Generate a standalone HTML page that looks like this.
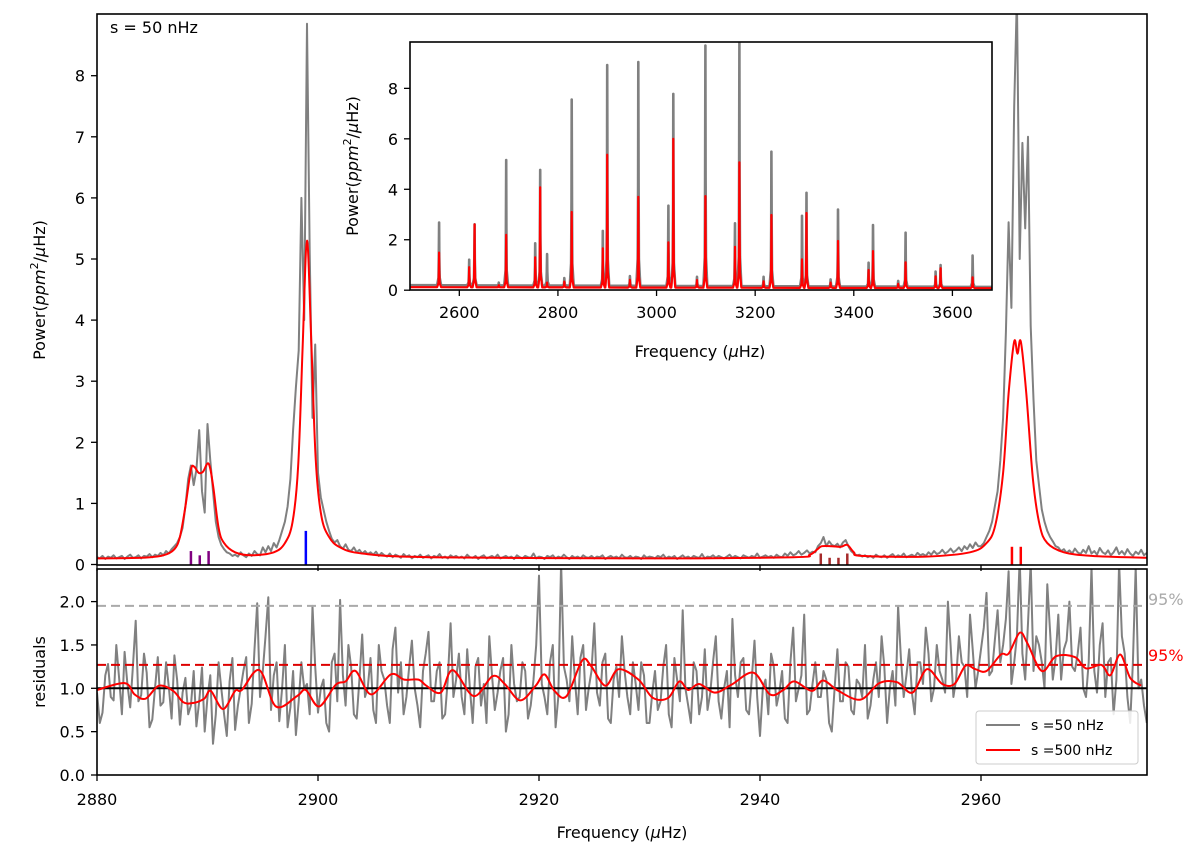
<!DOCTYPE html>
<html><head><meta charset="utf-8">
<style>
html,body{margin:0;padding:0;background:#fff;}
svg{display:block;font-family:"DejaVu Sans","Liberation Sans",sans-serif;}
</style></head>
<body>
<svg id="chart" width="1200" height="852" viewBox="0 0 1200 852" xmlns="http://www.w3.org/2000/svg">
<defs>
<clipPath id="clipMain"><rect x="97" y="14" width="1050" height="551"/></clipPath>
<clipPath id="clipRes"><rect x="97" y="569" width="1050" height="206"/></clipPath>
<clipPath id="clipIns"><rect x="410" y="42" width="582" height="248"/></clipPath>
</defs>
<rect width="1200" height="852" fill="#fff"/>
<g id="mainG"></g>
<g id="resG"></g>
<g id="insG"></g>
<text x="110" y="33" font-size="16">s = 50 nHz</text>
<text transform="translate(45,290) rotate(-90)" text-anchor="middle" font-size="16">Power(<tspan font-style="italic">ppm</tspan><tspan font-size="11" dy="-7">2</tspan><tspan dy="7">/</tspan><tspan font-style="italic">μ</tspan>Hz)</text>
<text transform="translate(45,672) rotate(-90)" text-anchor="middle" font-size="16">residuals</text>
<text x="622" y="838" text-anchor="middle" font-size="16">Frequency (<tspan font-style="italic">μ</tspan>Hz)</text>
<text transform="translate(358,166) rotate(-90)" text-anchor="middle" font-size="16">Power(<tspan font-style="italic">ppm</tspan><tspan font-size="11" dy="-7">2</tspan><tspan dy="7">/</tspan><tspan font-style="italic">μ</tspan>Hz)</text>
<text x="700" y="357" text-anchor="middle" font-size="16">Frequency (<tspan font-style="italic">μ</tspan>Hz)</text>
<text x="1148" y="605" font-size="16" fill="#aaaaaa">95%</text>
<text x="1148" y="661" font-size="16" fill="#ff0000">95%</text>
<g>
<rect x="976" y="711" width="162" height="53" rx="3" fill="#fff" fill-opacity="0.85" stroke="#cccccc"/>
<line x1="986" y1="725" x2="1020" y2="725" stroke="#808080" stroke-width="2"/>
<text x="1031" y="730" font-size="14">s =50 nHz</text>
<line x1="986" y1="750" x2="1020" y2="750" stroke="#ff0000" stroke-width="2"/>
<text x="1031" y="755" font-size="14">s =500 nHz</text>
</g>
</svg>
<script>
// ---------- data ----------
const mainGraySeg1Start = 2880;   // step 0.25
const mainGraySeg1 = [0.12,0.10,0.14,0.09,0.13,0.11,0.15,0.10,0.12,0.14,0.09,0.13,0.16,0.11,0.12,0.15,0.10,0.14,0.13,0.17,0.12,0.16,0.14,0.19,0.15,0.22,0.18,0.25];
const mainGraySeg2Start = 2887;
const mainGraySeg2 = [0.3,0.35,0.45,0.6,0.95,1.4,1.62,1.3,1.55,2.2,1.2,0.85,2.3,1.7,1.2,0.7];
const mainGraySeg3Start = 2891;
const mainGraySeg3 = [0.45,0.32,0.25,0.2,0.18,0.14,0.16,0.13,0.2,0.15,0.12,0.18,0.14,0.22,0.17,0.15,0.28,0.2,0.3,0.22,0.35,0.28,0.4,0.55];
const mainGraySeg4Start = 2897;
const mainGraySeg4 = [0.7,0.95,1.4,2.2,2.9,3.5,6.0,4.0,8.85,5.1,2.4,3.6,1.5,1.1,0.9,0.7];
const mainGraySeg5Start = 2901;
const mainGraySeg5 = [0.55,0.42,0.36,0.4,0.3,0.26,0.33,0.24,0.22,0.28,0.2,0.24,0.18,0.22,0.17,0.2,
0.16,0.21,0.14,0.19,0.15,0.13,0.18,0.12,0.16,0.14,0.11,0.17,0.13,0.15,0.1,0.14,
0.12,0.16,0.11,0.13,0.15,0.1,0.14,0.12,0.17,0.11,0.13,0.1,0.15,0.12,0.14,0.11,
0.13,0.1,0.16,0.12,0.11,0.14,0.09,0.13,0.15,0.1,0.12,0.14,0.11,0.16,0.1,0.12,
0.14,0.11,0.13,0.09,0.15,0.12,0.1,0.14,0.12,0.11,0.18,0.1,0.13,0.12,0.09,0.14,
0.12,0.15,0.1,0.13,0.11,0.16,0.12,0.09,0.14,0.11,0.13,0.1,0.15,0.12,0.11,0.14,
0.1,0.13,0.12,0.15,0.09,0.12,0.14,0.11,0.13,0.1,0.16,0.12,0.11,0.14,0.1,0.13,
0.12,0.09,0.15,0.11,0.13,0.12,0.1,0.14,0.12,0.16,0.1,0.13,0.11,0.14,0.09,0.12,
0.15,0.11,0.13,0.1,0.14,0.12,0.11,0.17,0.1,0.13,0.12,0.15,0.11,0.14,0.12,0.1,
0.13,0.16,0.11,0.14,0.12,0.1,0.15,0.13,0.11,0.14,0.12,0.18,0.11,0.13,0.15,0.12,
0.14,0.11,0.16,0.13,0.12,0.18,0.14,0.2,0.15,0.17,0.22,0.16,0.19,0.23,0.18,0.21];
const mainGraySeg6Start = 2945;
const mainGraySeg6 = [0.2,0.3,0.35,0.45,0.3,0.38,0.32,0.3,0.34,0.28,0.36,0.4,0.3,0.22,0.18,0.15];
const mainGraySeg7Start = 2949;
const mainGraySeg7 = [0.16,0.13,0.15,0.12,0.14,0.11,0.16,0.13,0.12,0.15,0.11,
0.14,0.17,0.12,0.15,0.13,0.18,0.12,0.14,0.16,0.13,0.19,
0.15,0.17,0.14,0.2,0.16,0.22,0.17,0.19,0.24,0.18,0.21,
0.26,0.2,0.23,0.28,0.22,0.3,0.25,0.33,0.27,0.36,0.3];
const mainGraySeg8Start = 2960;
const mainGraySeg8 = [0.3,0.35,0.45,0.55,0.7,0.95,1.2,1.7,2.4,3.8,5.6,4.2,7.5,9.3,5.0,6.9,5.5,7.0,3.9,2.7,1.7,1.3,0.9,0.7,0.55,0.45,0.38,0.3];
const mainGraySeg9Start = 2967;
const mainGraySeg9 = [0.28,0.22,0.25,0.19,0.23,0.18,0.26,0.2,0.17,0.24,0.19,0.3,0.18,0.22,0.16,0.27,0.2,0.17,0.23,0.15,0.2,0.28,0.17,0.22,0.16,0.25,0.18,0.14,0.21,0.17,0.24,0.15,0.19];

const mainRedFreq = [2880,2884,2886,2887,2887.5,2888,2888.5,2888.8,2889.2,2889.6,2890.1,2890.5,2891,2891.5,2892.5,2894,2896,2897,2897.7,2898.2,2898.6,2899,2899.4,2899.8,2900.3,2901,2902,2904,2910,2930,2943,2944.5,2945.2,2945.6,2946.5,2947.3,2947.9,2948.5,2949.2,2955,2959,2960.5,2961.3,2962,2962.5,2963,2963.3,2963.6,2964.1,2964.7,2965.3,2966,2967.5,2970,2975];
const mainRedVal  = [0.1,0.11,0.15,0.25,0.45,0.95,1.55,1.6,1.5,1.52,1.65,1.3,0.6,0.35,0.2,0.15,0.2,0.35,0.7,1.6,3.5,5.3,3.6,1.7,0.8,0.45,0.28,0.18,0.12,0.1,0.12,0.16,0.25,0.3,0.3,0.29,0.32,0.2,0.14,0.13,0.2,0.35,0.65,1.5,2.8,3.65,3.45,3.65,2.8,1.4,0.65,0.35,0.2,0.14,0.11];

const modeFreqPurple = [2888.5,2889.3,2890.1];
const modeHeightPurple = [0.22,0.15,0.22];
const modeFreqBlue = [2898.9];
const modeHeightBlue = [0.55];
const modeFreqBrown = [2945.5,2946.3,2947.1,2947.9];
const modeHeightBrown = [0.18,0.11,0.11,0.18];
const modeFreqRed = [2962.8,2963.6];
const modeHeightRed = [0.29,0.29];

const resGrayStart = 2880; // step 0.5
const resGray = [0.95,0.72,1.28,0.86,1.12,1.42,0.78,1.78,0.92,1.18,0.64,1.36,0.84,1.02,1.38,0.58,1.12,0.8,0.56,1.24,
0.9,0.36,1.3,0.7,1.08,0.52,1.0,1.36,0.82,1.98,1.2,2.05,1.15,0.62,1.5,0.78,0.46,1.3,1.05,1.95,
0.72,1.1,0.5,1.4,2.02,0.8,1.25,0.65,1.62,1.0,0.75,1.5,1.1,0.6,1.7,1.3,0.9,1.55,0.8,1.2,
1.65,0.85,1.3,0.7,1.75,1.1,0.9,1.45,0.6,1.35,1.05,1.6,0.75,1.2,0.5,1.5,0.85,1.3,0.65,1.1,
2.3,0.9,1.3,0.55,2.45,1.1,1.6,0.7,1.5,1.0,1.75,0.8,1.4,0.6,1.25,1.6,0.9,1.3,0.75,1.15,
0.6,1.2,0.85,1.5,0.55,1.1,1.9,0.8,1.3,0.7,1.45,0.95,1.6,0.65,1.2,1.8,0.9,1.35,0.7,1.55,
0.45,1.1,1.4,0.8,1.2,0.6,1.7,1.0,1.85,0.75,1.3,0.9,1.1,0.5,1.45,0.85,1.25,0.7,1.05,1.5,
0.8,1.3,1.6,0.6,1.2,1.95,0.9,1.45,0.7,1.3,1.7,0.85,1.5,1.1,2.0,0.9,1.6,1.25,1.85,1.0,
1.45,2.1,1.2,1.9,1.5,2.35,1.3,2.5,1.1,2.45,1.6,1.3,2.2,1.1,1.85,1.45,2.0,1.2,1.7,0.9,
2.4,0.95,1.75,1.3,0.7,2.45,1.4,0.6,2.4,1.1,0.6];
const resGrayMidStart = 2880.25; // step 0.5, interleaved
const resGrayMid = [0.6,1.15,0.9,1.5,0.7,1.05,1.25,0.85,1.4,0.55,1.0,0.8,1.3,0.65,1.1,0.95,0.7,1.2,0.85,0.5,
1.15,0.7,1.0,0.45,1.35,0.8,1.2,0.6,1.45,0.9,1.6,0.75,1.3,1.0,0.55,1.2,0.85,1.0,0.7,1.25,
1.0,0.6,1.3,0.85,1.15,1.5,0.7,1.1,0.9,1.35,0.6,1.2,0.8,1.45,0.95,0.7,1.25,1.0,0.55,1.4,
0.85,1.2,0.65,1.1,0.9,1.4,0.7,1.0,1.25,0.8,0.6,1.15,0.95,1.35,0.7,1.05,0.9,1.2,0.8,1.5,
1.05,0.7,1.5,0.9,1.25,0.85,1.1,1.35,0.75,1.2,0.95,1.3,0.65,1.1,0.9,1.2,0.7,1.05,1.3,0.6,
0.95,0.75,1.25,0.7,1.35,0.85,1.0,0.6,1.2,0.9,0.75,1.3,0.85,1.0,0.55,1.15,1.3,0.75,1.1,0.9,
1.0,0.7,1.25,0.95,0.65,1.3,0.85,1.15,0.7,1.05,0.9,1.2,0.6,1.0,0.85,1.3,0.75,1.1,0.9,0.65,
1.1,0.9,1.25,1.0,0.8,1.35,1.15,0.95,1.3,1.05,1.4,1.0,1.2,0.95,1.5,1.1,1.3,0.9,1.45,1.2,
1.7,1.15,1.55,1.3,1.8,1.05,1.6,1.4,1.75,1.2,1.5,1.0,1.65,1.35,1.1,1.55,1.25,1.4,1.0,1.3,
1.2,1.5,0.9,1.35,1.1,1.6,0.9,1.3,1.0,0.8];

const resRedFreq = [2880,2882.5,2883.4,2884.4,2885.6,2886.9,2887.8,2888.7,2889.7,2890.3,2891.4,2892.5,2893.1,2894.7,2896.2,2898.1,2898.9,2900.1,2901.6,2902.5,2903.4,2904.8,2906.6,2907.8,2909.1,2909.8,2911.1,2912.2,2914.1,2915.8,2916.9,2918.3,2919.7,2920.5,2921.4,2922.5,2923.9,2924.7,2926.0,2927.2,2929.0,2930.3,2931.7,2932.7,2933.5,2934.5,2935.9,2937.4,2939.4,2940.9,2942.1,2943.1,2944.7,2945.7,2947.1,2949.1,2950.8,2952.4,2953.8,2955.1,2956.5,2957.6,2958.6,2959.5,2960.5,2961.8,2962.5,2963.5,2964.2,2965.5,2966.8,2968.5,2969.5,2970.9,2971.7,2972.6,2973.5,2974.5];
const resRedVal  = [0.98,1.06,0.93,0.88,1.03,0.97,0.84,0.83,0.88,0.97,0.76,0.97,0.98,1.21,0.79,0.91,0.98,0.79,1.04,1.08,1.2,0.93,1.16,1.1,1.1,1.03,0.95,1.21,0.91,1.14,1.05,0.86,1.03,1.16,0.97,0.91,1.32,1.26,1.03,1.22,1.1,0.89,0.89,1.08,0.98,1.05,0.95,1.04,1.18,0.93,0.98,1.08,0.97,1.09,0.97,0.87,1.06,1.07,0.95,1.22,1.05,1.05,1.26,1.22,1.2,1.39,1.4,1.64,1.52,1.2,1.37,1.36,1.23,1.27,1.15,1.39,1.12,1.03];
const resGrayThreshold = 1.95;
const resRedThreshold = 1.27;

const insPeakFreq = [2559,2620,2631,2680,2695,2754,2764,2778,2813,2828,2891,2900,2946,2963,3024,3034,3082,3099,3159,3168,3217,3233,3295,3304,3353,3368,3430,3439,3490,3505,3566,3576,3641];
const insPeakGray = [2.68,1.21,2.61,0.3,5.16,1.86,4.77,1.43,0.48,7.56,2.35,8.92,0.56,9.04,3.35,7.78,0.53,9.7,2.65,9.9,0.53,5.49,2.95,3.86,0.43,3.2,1.09,2.58,0.37,2.28,0.74,1.0,1.37];
const insPeakRed  = [1.49,0.91,2.61,0.2,2.19,1.3,4.08,0.3,0.34,3.1,1.66,5.37,0.41,3.7,1.9,6.0,0.4,3.73,1.72,5.07,0.35,2.98,1.22,3.06,0.3,1.95,0.8,1.55,0.25,1.1,0.55,0.87,0.51];

const mainYTicks = [0,1,2,3,4,5,6,7,8];
const xTicks = [2880,2900,2920,2940,2960];
const resYTicks = [0.0,0.5,1.0,1.5,2.0];
const resYTickLabels = ["0.0","0.5","1.0","1.5","2.0"];
const insXTicks = [2600,2800,3000,3200,3400,3600];
const insYTicks = [0,2,4,6,8];

// ---------- scales ----------
const xMain = f => 97 + (f - 2880) * 11.05;
const yMain = v => 564.5 - v * 61.1;
const yRes = v => 775 - v * 86.7;
const xIns = f => 410 + (f - 2500) * 0.4931;
const yIns = v => 290.2 - v * 25.23;

const NS = "http://www.w3.org/2000/svg";
function mk(tag, attrs, parent) {
  const e = document.createElementNS(NS, tag);
  for (const k in attrs) e.setAttribute(k, attrs[k]);
  parent.appendChild(e);
  return e;
}
function segPts(start, step, vals) { return vals.map((v, i) => [start + i * step, v]); }
function pathFrom(pts, fx, fy) { return pts.map((p, i) => (i ? "L" : "M") + fx(p[0]).toFixed(1) + "," + fy(p[1]).toFixed(1)).join(""); }
function smoothPath(xs, ys) {
  const p = xs.map((x, i) => [x, ys[i]]);
  let d = "M" + p[0][0].toFixed(1) + "," + p[0][1].toFixed(1);
  for (let i = 0; i < p.length - 1; i++) {
    const p0 = p[Math.max(0, i - 1)], p1 = p[i], p2 = p[i + 1], p3 = p[Math.min(p.length - 1, i + 2)];
    const c1x = p1[0] + (p2[0] - p0[0]) / 6, c1y = p1[1] + (p2[1] - p0[1]) / 6;
    const c2x = p2[0] - (p3[0] - p1[0]) / 6, c2y = p2[1] - (p3[1] - p1[1]) / 6;
    d += "C" + c1x.toFixed(1) + "," + c1y.toFixed(1) + " " + c2x.toFixed(1) + "," + c2y.toFixed(1) + " " + p2[0].toFixed(1) + "," + p2[1].toFixed(1);
  }
  return d;
}

// ---------- main panel ----------
const mg = document.getElementById("mainG");
const mainGrayPts = [].concat(
  segPts(mainGraySeg1Start, 0.25, mainGraySeg1), segPts(mainGraySeg2Start, 0.25, mainGraySeg2),
  segPts(mainGraySeg3Start, 0.25, mainGraySeg3), segPts(mainGraySeg4Start, 0.25, mainGraySeg4),
  segPts(mainGraySeg5Start, 0.25, mainGraySeg5), segPts(mainGraySeg6Start, 0.25, mainGraySeg6),
  segPts(mainGraySeg7Start, 0.25, mainGraySeg7), segPts(mainGraySeg8Start, 0.25, mainGraySeg8),
  segPts(mainGraySeg9Start, 0.25, mainGraySeg9));
const mgc = mk("g", {"clip-path": "url(#clipMain)"}, mg);
const gl = mk("path", {d: pathFrom(mainGrayPts, xMain, yMain), fill: "none", stroke: "#808080", "stroke-width": 2, "stroke-linejoin": "round"}, mgc);


const rl = mk("path", {d: smoothPath(mainRedFreq.map(xMain), mainRedVal.map(yMain)), fill: "none", stroke: "#ff0000", "stroke-width": 2}, mgc);


function modeTicks(fs, hs, color, name) {
  fs.forEach((f, i) => {
    const l = mk("line", {x1: xMain(f), x2: xMain(f), y1: yMain(0), y2: yMain(hs[i]), stroke: color, "stroke-width": 2.5}, mg);
    
    
  });
}
modeTicks(modeFreqPurple, modeHeightPurple, "#800080", "mode-marker-purple");
modeTicks(modeFreqBlue, modeHeightBlue, "#0000ff", "mode-marker-blue");
modeTicks(modeFreqBrown, modeHeightBrown, "#a52a2a", "mode-marker-brown");
modeTicks(modeFreqRed, modeHeightRed, "#ff0000", "mode-marker-red");
const mf = mk("rect", {x: 97, y: 14, width: 1050, height: 551, fill: "none", stroke: "#000", "stroke-width": 1.6}, mg);


mainYTicks.forEach(t => {
  mk("line", {x1: 91, x2: 97, y1: yMain(t), y2: yMain(t), stroke: "#000", "stroke-width": 1.3}, mg);
  const tx = mk("text", {x: 85, y: yMain(t) + 6, "text-anchor": "end", "font-size": 16}, mg);
  tx.textContent = t;
  
  
});
xTicks.forEach(t => {
  mk("line", {x1: xMain(t), x2: xMain(t), y1: 565, y2: 571, stroke: "#000", "stroke-width": 1.3}, mg);
});

// ---------- residuals ----------
const rg = document.getElementById("resG");
const rgc = mk("g", {"clip-path": "url(#clipRes)"}, rg);
const resPts = segPts(resGrayStart, 0.5, resGray).concat(segPts(resGrayMidStart, 0.5, resGrayMid)).sort((a, b) => a[0] - b[0]);
const rgl = mk("path", {d: pathFrom(resPts, xMain, yRes), fill: "none", stroke: "#808080", "stroke-width": 2, "stroke-linejoin": "round"}, rgc);


const gth = mk("line", {x1: 97, x2: 1147, y1: yRes(resGrayThreshold), y2: yRes(resGrayThreshold), stroke: "#aaaaaa", "stroke-width": 2, "stroke-dasharray": "9,5"}, rgc);


const rth = mk("line", {x1: 97, x2: 1147, y1: yRes(resRedThreshold), y2: yRes(resRedThreshold), stroke: "#dd0000", "stroke-width": 2, "stroke-dasharray": "9,5"}, rgc);


const one = mk("line", {x1: 97, x2: 1147, y1: yRes(1), y2: yRes(1), stroke: "#000", "stroke-width": 2}, rgc);


const rrl = mk("path", {d: smoothPath(resRedFreq.map(xMain), resRedVal.map(yRes)), fill: "none", stroke: "#ff0000", "stroke-width": 2}, rgc);


const rf = mk("rect", {x: 97, y: 569, width: 1050, height: 206, fill: "none", stroke: "#000", "stroke-width": 1.6}, rg);


resYTicks.forEach((t, i) => {
  mk("line", {x1: 91, x2: 97, y1: yRes(t), y2: yRes(t), stroke: "#000", "stroke-width": 1.3}, rg);
  const tx = mk("text", {x: 85, y: yRes(t) + 6, "text-anchor": "end", "font-size": 16}, rg);
  tx.textContent = resYTickLabels[i];
  
  
});
xTicks.forEach(t => {
  mk("line", {x1: xMain(t), x2: xMain(t), y1: 775, y2: 781, stroke: "#000", "stroke-width": 1.3}, rg);
  const tx = mk("text", {x: xMain(t), y: 805, "text-anchor": "middle", "font-size": 16}, rg);
  tx.textContent = t;
  
  
});

// ---------- inset ----------
const ig = document.getElementById("insG");
mk("rect", {x: 410, y: 42, width: 582, height: 248, fill: "#fff"}, ig);
const igc = mk("g", {"clip-path": "url(#clipIns)"}, ig);
function insPath(heights, base0, base1) {
  const base = f => base0 + (base1 - base0) * (f - 2500) / 1180;
  let pts = [[2500, base(2500)]];
  insPeakFreq.forEach((f, i) => {
    const b = base(f), h = Math.max(heights[i], b);
    pts.push([f - 4, b], [f - 1.2, b + 0.12 * (h - b)], [f - 0.5, b + 0.45 * (h - b)], [f, h], [f + 0.5, b + 0.45 * (h - b)], [f + 1.2, b + 0.12 * (h - b)], [f + 4, b]);
  });
  pts.push([3680, base(3680)]);
  return pathFrom(pts, xIns, yIns);
}
const igl = mk("path", {d: insPath(insPeakGray, 0.2, 0.13), fill: "none", stroke: "#808080", "stroke-width": 2.6, "stroke-linejoin": "round"}, igc);


const irl = mk("path", {d: insPath(insPeakRed, 0.12, 0.08), fill: "none", stroke: "#ff0000", "stroke-width": 2.2, "stroke-linejoin": "round"}, igc);


const iframe = mk("rect", {x: 410, y: 42, width: 582, height: 248, fill: "none", stroke: "#000", "stroke-width": 1.6}, ig);


insYTicks.forEach(t => {
  mk("line", {x1: 404, x2: 410, y1: yIns(t), y2: yIns(t), stroke: "#000", "stroke-width": 1.3}, ig);
  const tx = mk("text", {x: 398, y: yIns(t) + 6, "text-anchor": "end", "font-size": 16}, ig);
  tx.textContent = t;
  
  
});
insXTicks.forEach(t => {
  mk("line", {x1: xIns(t), x2: xIns(t), y1: 290, y2: 296, stroke: "#000", "stroke-width": 1.3}, ig);
  const tx = mk("text", {x: xIns(t), y: 318, "text-anchor": "middle", "font-size": 16}, ig);
  tx.textContent = t;
  
  
});
</script>
</body></html>
